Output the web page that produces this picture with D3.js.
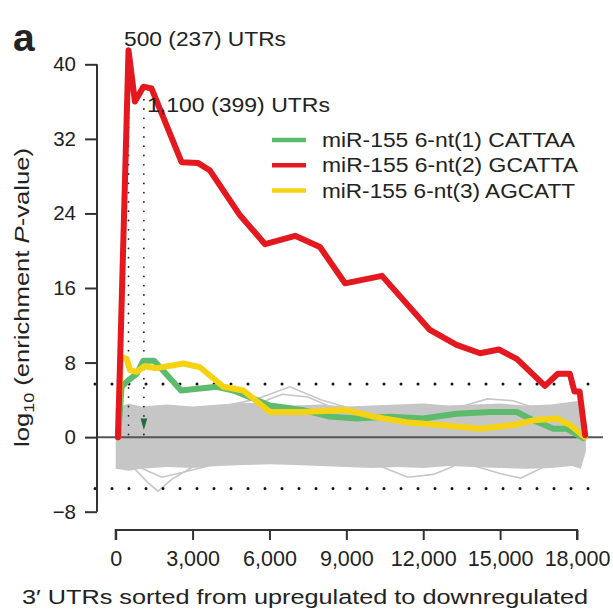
<!DOCTYPE html>
<html><head><meta charset="utf-8">
<script src="https://cdn.jsdelivr.net/npm/d3@7"></script>
<style>body{margin:0;background:#fff}svg{display:block}text{font-family:"Liberation Sans",Arial,sans-serif;fill:#222}</style>
</head><body><svg id="c" width="613" height="613"></svg>
<script>
// ---- data ----
const xTicks = [0, 3000, 6000, 9000, 12000, 15000, 18000];
const yTicks = [-8, 0, 8, 16, 24, 32, 40];
const seriesNames = ["miR-155 6-nt(1) CATTAA", "miR-155 6-nt(2) GCATTA", "miR-155 6-nt(3) AGCATT"];
const seriesColors = ["#5cbb6c", "#e3191f", "#f6d312"];

const redX = [90, 500, 750, 1080, 1400, 2570, 3220, 3680, 4850, 5830, 7000, 7970, 8950, 10390, 12260, 13300, 14220, 14950, 15650, 16750, 17250, 17720, 17900, 18100, 18320];
const redY = [0, 41.5, 36.0, 37.6, 37.4, 29.5, 29.4, 28.6, 23.8, 20.7, 21.6, 20.4, 16.5, 17.3, 11.5, 9.9, 9.0, 9.4, 8.4, 5.5, 6.8, 6.8, 4.9, 4.9, 0.2];

const greenX = [90, 230, 490, 820, 1080, 1500, 2550, 3940, 4590, 6020, 7320, 8360, 9400, 10700, 12000, 13300, 14600, 15650, 16300, 17080, 17600, 18250];
const greenY = [0, 5.4, 6.1, 6.8, 8.2, 8.2, 5.0, 5.4, 5.0, 3.4, 2.9, 2.2, 2.0, 2.2, 2.0, 2.5, 2.7, 2.7, 1.8, 0.9, 0.9, -0.1];

const yellowX = [90, 200, 430, 560, 820, 1100, 1600, 2640, 3290, 4200, 4980, 6020, 7320, 9010, 10050, 11350, 12650, 14220, 15510, 16300, 17210, 17730, 18310];
const yellowY = [0, 8.6, 8.4, 7.2, 7.0, 7.6, 7.4, 7.9, 7.5, 5.4, 5.0, 2.7, 2.7, 2.9, 2.2, 1.6, 1.3, 0.9, 1.3, 1.8, 2.0, 1.3, 0.0];

// background permutation envelope
const bandX = [0, 500, 1000, 2000, 3000, 4000, 5000, 6000, 7000, 8000, 9000, 10000, 11000, 12000, 13000, 14000, 15000, 16000, 17000, 17800, 18150, 18350];
const bandUpper = [3.1, 3.6, 3.3, 3.5, 3.3, 3.5, 3.7, 3.6, 3.4, 3.5, 3.3, 3.4, 3.5, 3.6, 3.4, 3.5, 3.6, 3.4, 3.5, 3.8, 3.9, 1.0];
const bandLower = [-3.4, -3.6, -3.4, -3.2, -3.3, -3.1, -3.0, -2.9, -3.0, -3.1, -3.2, -3.3, -3.2, -3.3, -3.1, -3.2, -3.3, -3.4, -3.3, -3.1, -3.4, -1.5];
// individual outlying permutation traces
const grayTraces = [
  {x: [4000, 5500, 6800, 8000, 9000], y: [3.2, 4.1, 5.4, 4.0, 3.2]},
  {x: [5000, 6500, 7500, 8600], y: [3.0, 4.6, 4.3, 3.0]},
  {x: [600, 1300, 1650, 2200, 3000], y: [-3.0, -5.0, -5.8, -4.5, -3.2]},
  {x: [900, 1800, 2600, 3600], y: [-3.2, -4.3, -3.8, -3.1]},
  {x: [10300, 11400, 12400, 13200], y: [-3.1, -4.3, -4.0, -3.1]},
  {x: [13400, 14500, 15500, 16400], y: [3.2, 4.1, 3.9, 3.1]},
  {x: [14000, 15000, 15800, 16700], y: [-3.1, -3.9, -4.4, -3.2]}
];
const thresholds = [5.7, -5.5];
const markers = [{x: 500, top: 41.2, label: "500 (237) UTRs"}, {x: 1100, top: 36.2, label: "1,100 (399) UTRs"}];
const smallMark = [{x: 1100, y: 1.6}];

// ---- drawing ----
const svg = d3.select("#c");
const x = d3.scaleLinear().domain([0, 18000]).range([115.7, 577]);
const y = d3.scaleLinear().domain([-8, 40]).range([511.7, 64.3]);

// band
svg.append("path").datum(bandX.map((v, i) => [v, bandUpper[i], bandLower[i]]))
  .attr("d", d3.area().x(d => x(d[0])).y0(d => y(d[2])).y1(d => y(d[1])))
  .attr("fill", "#c6c6c6");
const ln = d3.line().x(d => x(d[0])).y(d => y(d[1]));
grayTraces.forEach(t => {
  svg.append("path").datum(t.x.map((v, i) => [v, t.y[i]])).attr("d", ln)
    .attr("fill", "none").attr("stroke", "#c6c6c6").attr("stroke-width", 1.6);
});

// threshold dotted lines
thresholds.forEach(t => {
  svg.append("line").attr("x1", 95).attr("x2", 592).attr("y1", y(t)).attr("y2", y(t))
    .attr("stroke", "#111").attr("stroke-width", 3).attr("stroke-linecap", "round")
    .attr("stroke-dasharray", "0 17");
});
// vertical dotted markers
markers.forEach(m => {
  svg.append("line").attr("x1", x(m.x)).attr("x2", x(m.x)).attr("y1", y(m.top)).attr("y2", y(0))
    .attr("stroke", "#222").attr("stroke-width", 1.8).attr("stroke-linecap", "round")
    .attr("stroke-dasharray", "0 9.3");
});
// zero line
svg.append("line").attr("x1", 97).attr("x2", 603).attr("y1", y(0)).attr("y2", y(0))
  .attr("stroke", "#555").attr("stroke-width", 2);

// small dark mark
smallMark.forEach(s => {
  svg.append("path").attr("d", d3.symbol(d3.symbolTriangle, 30)())
    .attr("transform", `translate(${x(s.x)},${y(s.y)}) rotate(180) scale(0.8,1.6)`)
    .attr("fill", "#1f6b3a");
});

// series
const series = [[greenX, greenY], [yellowX, yellowY], [redX, redY]];
const colorIdx = [0, 2, 1];
series.forEach((s, k) => {
  svg.append("path").datum(s[0].map((v, i) => [v, s[1][i]])).attr("d", ln)
    .attr("fill", "none").attr("stroke", seriesColors[colorIdx[k]]).attr("stroke-width", 6)
    .attr("stroke-linejoin", "round").attr("stroke-linecap", "round");
});

// axes
const yAxis = svg.append("g").attr("transform", "translate(97,0)")
  .call(d3.axisLeft(y).tickValues(yTicks).tickSize(12).tickPadding(9).tickFormat(d => d < 0 ? "\u2212" + Math.abs(d) : d));
yAxis.select(".domain").attr("stroke", "#333").attr("stroke-width", 2).attr("d", `M0,${y(40)}V${y(-8)}`);
yAxis.selectAll(".tick line").attr("stroke", "#333").attr("stroke-width", 2);
yAxis.selectAll("text").style("font-size", "20.5px").attr("fill", "#222");

const xAxis = svg.append("g").attr("transform", "translate(0,530)")
  .call(d3.axisBottom(x).tickValues(xTicks).tickSize(10).tickPadding(11).tickFormat(d3.format(",")));
xAxis.select(".domain").attr("stroke", "#333").attr("stroke-width", 2).attr("d", `M${x(0)},10V0H${x(18000)}V10`);
xAxis.selectAll(".tick line").attr("stroke", "#333").attr("stroke-width", 2);
xAxis.selectAll("text").style("font-size", "21.5px").attr("fill", "#222");

// annotations
function stretched(sel, len) { return sel.attr("textLength", len).attr("lengthAdjust", "spacingAndGlyphs"); }
stretched(svg.append("text").attr("x", 124).attr("y", 46).style("font-size", "19.5px").text(markers[0].label), 162);
stretched(svg.append("text").attr("x", 147).attr("y", 112).style("font-size", "19.5px").text(markers[1].label), 183);
svg.append("text").attr("x", 13).attr("y", 51).style("font-size", "39px").style("font-weight", "bold").text("a");

// legend
const legLen = [253, 256, 253];
[0, 1, 2].forEach((k, i) => {
  const ly = 140 + i * 25.3;
  svg.append("line").attr("x1", 272).attr("x2", 306).attr("y1", ly).attr("y2", ly)
    .attr("stroke", seriesColors[k]).attr("stroke-width", 4.5);
  stretched(svg.append("text").attr("x", 322).attr("y", ly + 7).style("font-size", "19.5px").text(seriesNames[k]), legLen[i]);
});

// axis titles
stretched(svg.append("text").attr("x", 22).attr("y", 604).style("font-size", "20.5px")
  .text("3\u2032 UTRs sorted from upregulated to downregulated"), 566);
const yl = svg.append("text").attr("transform", "translate(29,447) rotate(-90)").style("font-size", "20px");
yl.append("tspan").text("log");
yl.append("tspan").text("10").style("font-size", "14px").attr("dy", 5);
yl.append("tspan").text(" (enrichment ").attr("dy", -5);
yl.append("tspan").text("P").style("font-style", "italic");
yl.append("tspan").text("-value)");
stretched(yl, 299);
</script></body></html>
